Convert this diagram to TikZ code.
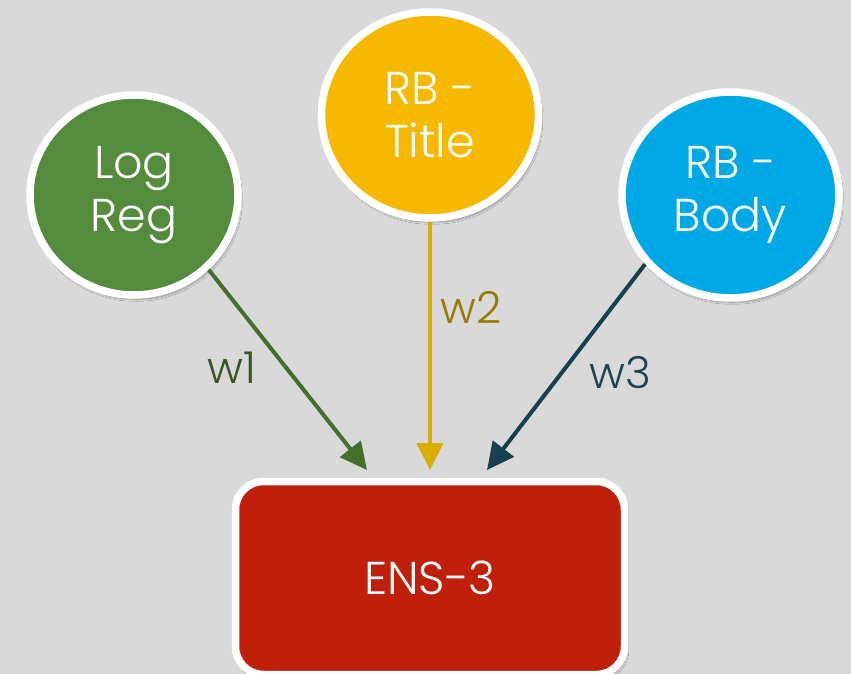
\documentclass[tikz,border=0pt]{standalone}
\usepackage{fontspec}
\setmainfont{Poppins Light}
\usetikzlibrary{shapes.geometric,arrows.meta,shadows.blur}
\definecolor{bg}{HTML}{D9D9D9}
\definecolor{cgreen}{HTML}{548B3C}
\definecolor{cyellow}{HTML}{F6B900}
\definecolor{cblue}{HTML}{00A9E5}
\definecolor{cred}{HTML}{BF1F0B}
\definecolor{agreen}{HTML}{44702E}
\definecolor{ayellow}{HTML}{D9AE00}
\definecolor{ateal}{HTML}{18414F}
\definecolor{lgreen}{HTML}{375623}
\definecolor{lyellow}{HTML}{997A00}
\definecolor{lteal}{HTML}{1C4452}
\tikzset{
  bignode/.style={draw=white, line width=7.5pt, text=white, align=center, inner sep=0pt,
    font=\fontsize{46}{53}\selectfont,
    blur shadow={shadow blur steps=10, shadow xshift=2pt, shadow yshift=-4pt, shadow opacity=35, shadow blur extra rounding=2pt}},
  bubble/.style={bignode, ellipse, minimum width=208pt, minimum height=200pt},
  conn/.style={line width=4pt, -{Triangle[length=27pt,width=26pt]}},
  wlabel/.style={anchor=base, font=\fontsize{44}{50}\selectfont, inner sep=0pt}
}
\begin{document}
\begin{tikzpicture}[x=1pt,y=-1pt]
\fill[bg] (0,0) rectangle (851,674);
\useasboundingbox (0,0) rectangle (851,674);

\node[bubble, fill=cgreen] (lr) at (134,195) {Log\\Reg};
\node[bubble, fill=cyellow, minimum width=217pt, minimum height=206pt] (rt) at (430,115) {RB -\\Title};
\node[bubble, fill=cblue, minimum width=217pt, minimum height=206pt] (rb) at (730.5,195) {RB -\\Body};
\node[bignode, fill=cred, rectangle, rounded corners=28pt, minimum width=389pt, minimum height=193pt] (ens) at (430,578) {ENS-3};

\coordinate (t1) at (367,470);
\coordinate (t2) at (430,470);
\coordinate (t3) at (487,470);

\draw[conn, agreen] (lr.-45) -- (t1);
\draw[conn, ayellow] (rt.south) -- (t2);
\draw[conn, ateal] (rb.-141) -- (t3);

\node[wlabel, text=lgreen] (w1) at (232,383) {w1};
\node[wlabel, text=lyellow] (w2) at (471,323) {w2};
\node[wlabel, text=lteal] (w3) at (620,388) {w3};
\end{tikzpicture}
\end{document}
